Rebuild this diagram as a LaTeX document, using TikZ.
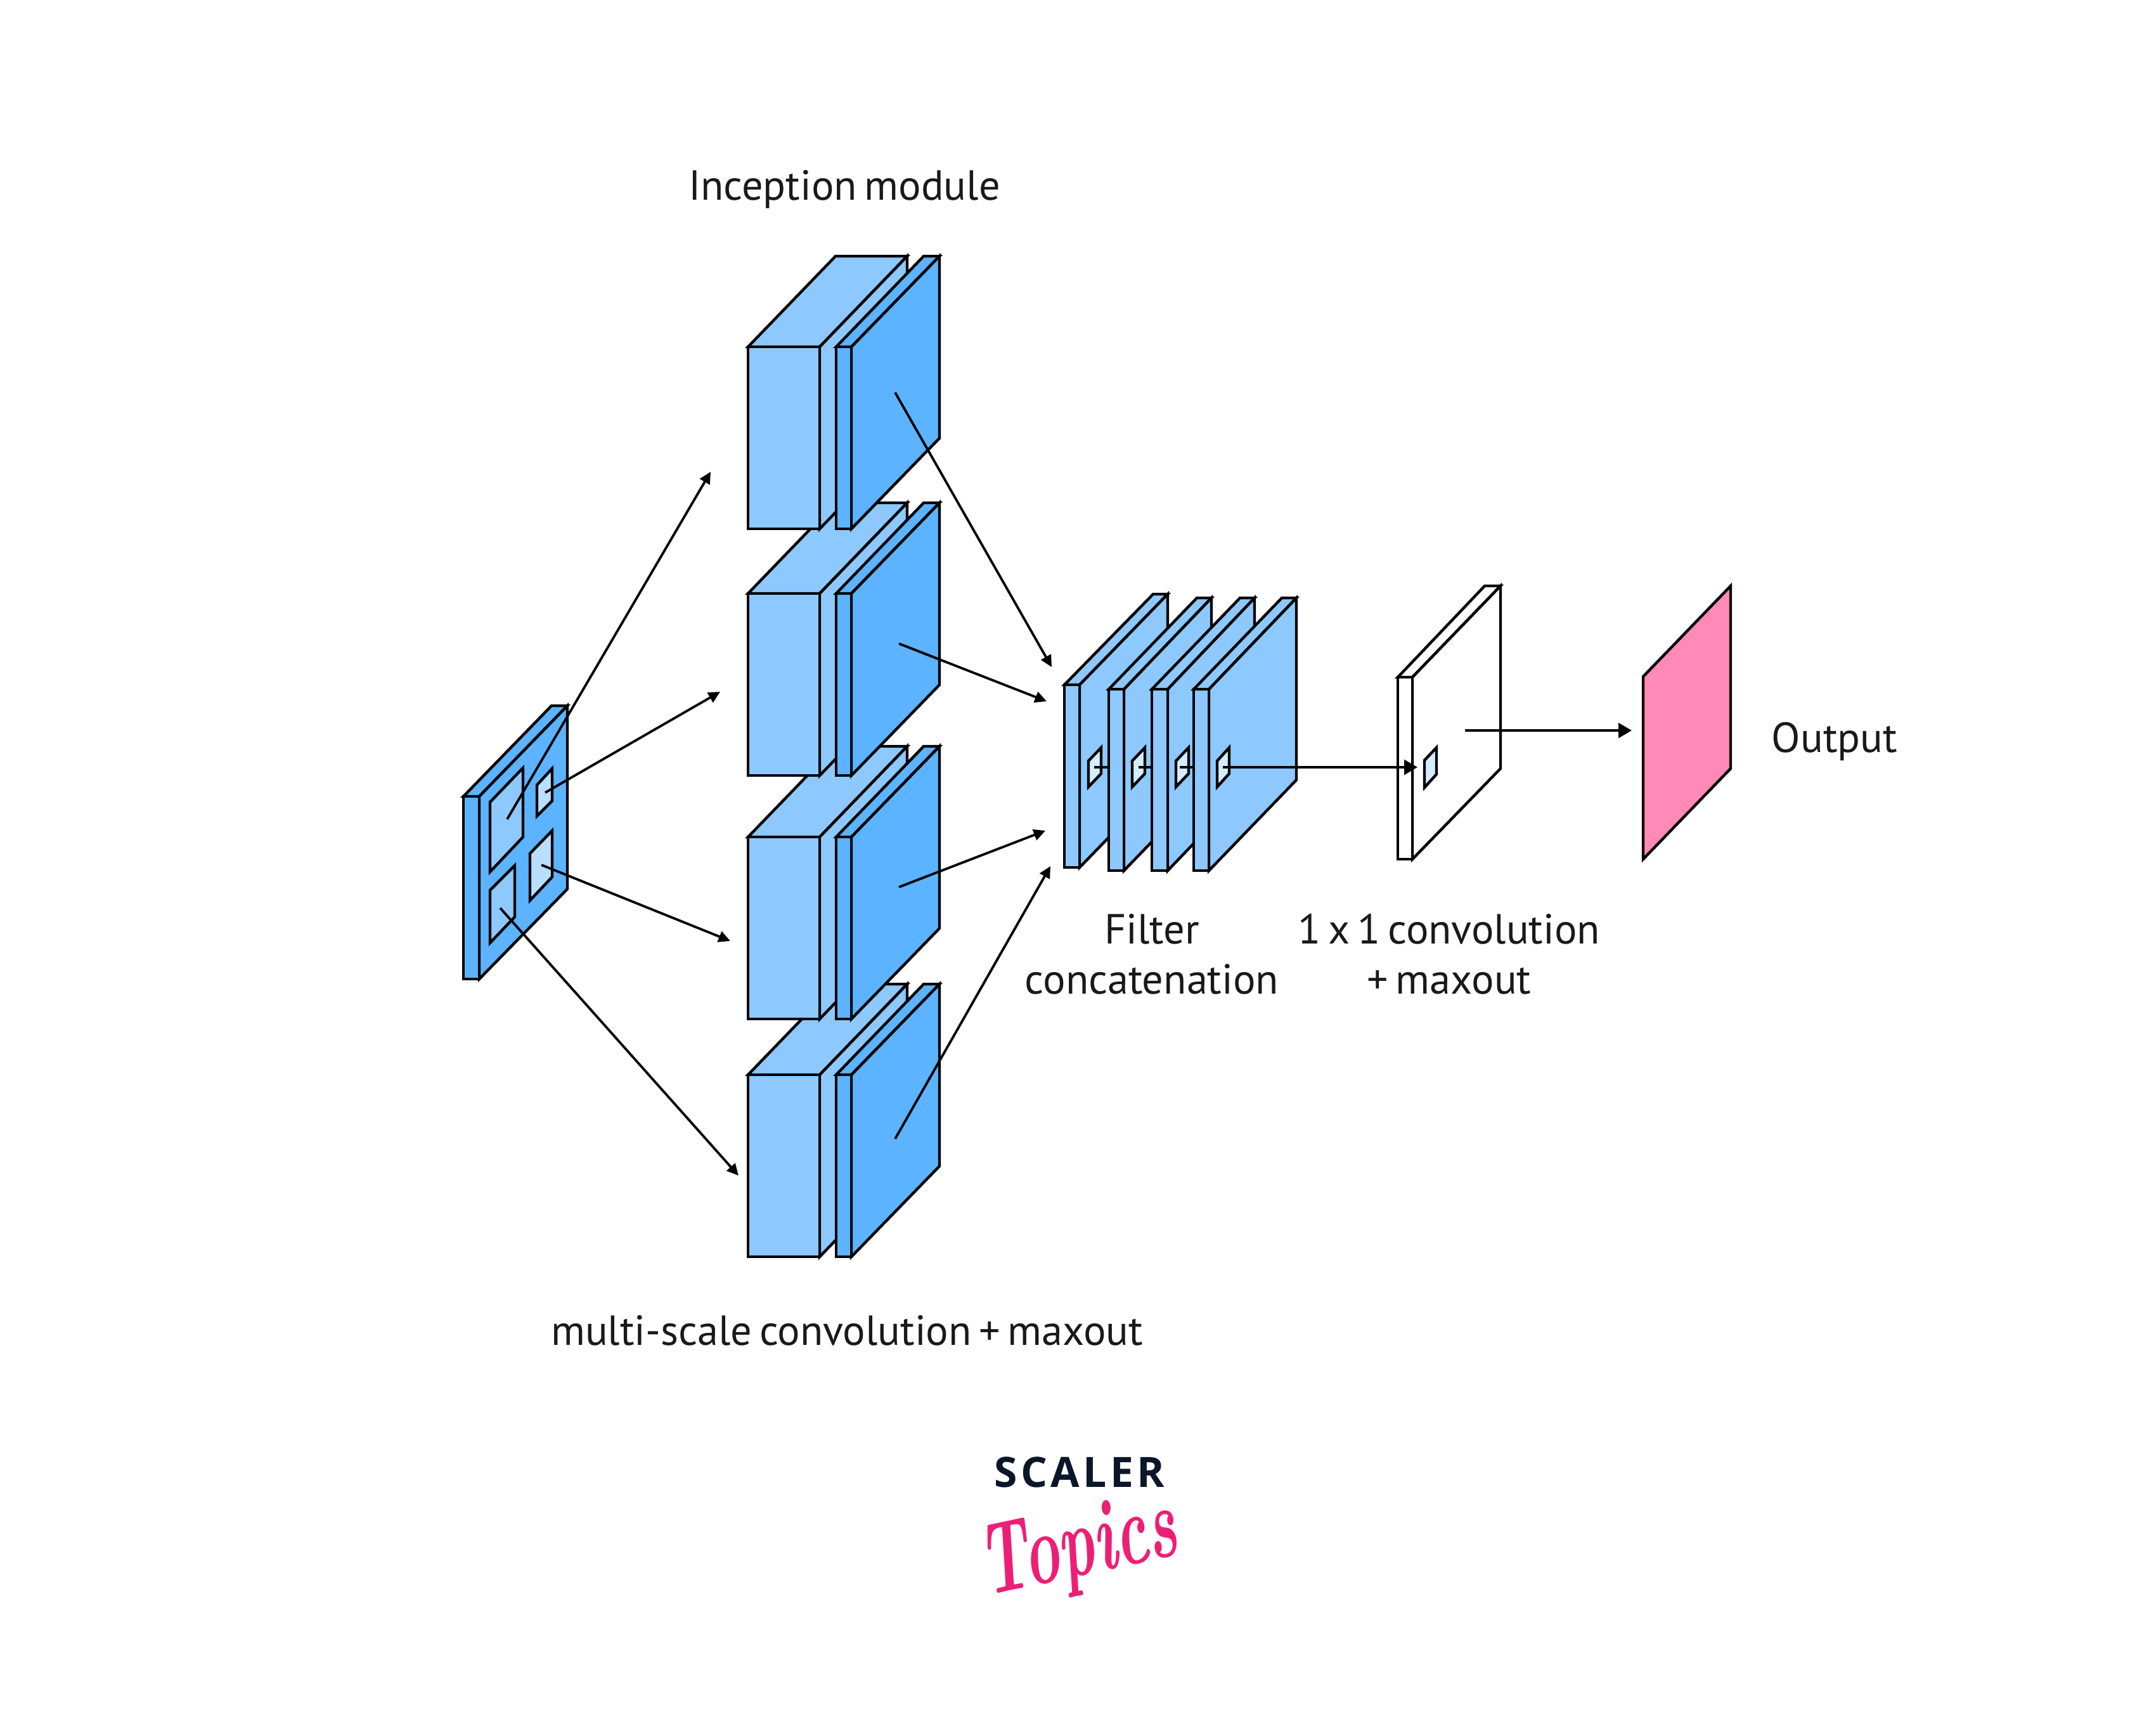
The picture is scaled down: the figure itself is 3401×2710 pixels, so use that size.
\documentclass[tikz,border=0pt]{standalone}
\usepackage{graphicx}
\usepackage{fontspec}
\setsansfont[WordSpace=0.66]{PT Sans}
\newfontfamily\logofont[LetterSpace=8]{Open Sans}
\usetikzlibrary{arrows.meta}

\definecolor{lightface}{HTML}{8DC9FF}
\definecolor{darkface}{HTML}{5CB3FF}
\definecolor{paleface}{HTML}{B9DFFF}
\definecolor{windowface}{HTML}{D4EDFF}
\definecolor{outputface}{HTML}{FF8AB8}
\definecolor{logonavy}{HTML}{0B1629}
\definecolor{logopink}{HTML}{EC1F75}

\tikzset{
  wall/.style={draw=black,line width=1.1pt,line join=miter},
  light/.style={wall,fill=lightface},
  dark/.style={wall,fill=darkface},
  pale/.style={wall,fill=paleface},
  hollow/.style={wall,fill=white},
  window/.style={wall,fill=windowface},
  flow/.style={draw=black,line width=.95pt,-{Triangle[length=4.6pt,width=4.4pt]}},
  bigflow/.style={draw=black,line width=.95pt,-{Triangle[length=5.2pt,width=5.8pt]}},
  stub/.style={draw=black,line width=.95pt},
  caption/.style={inner sep=0pt,anchor=base,font=\sffamily\fontsize{16.6pt}{20pt}\selectfont,text=black!90},
}

\begin{document}
\begin{tikzpicture}[x=0.25pt,y=0.25pt,yscale=-1,xscale=1]
\useasboundingbox (0,0) rectangle (3401,2710);

%Inception block 4
\path[light] (1180,1695) -- (1318,1552) -- (1431,1552) -- (1293,1695) -- cycle ;
\path[light] (1293,1695) -- (1431,1552) -- (1431,1839) -- (1293,1982) -- cycle ;
\path[light] (1180,1695) rectangle (1293,1982) ;
\path[dark] (1319,1695) -- (1457,1552) -- (1482,1552) -- (1343,1695) -- cycle ;
\path[dark] (1343,1695) -- (1482,1552) -- (1482,1839) -- (1343,1982) -- cycle ;
\path[dark] (1319,1695) rectangle (1343,1982) ;
%Inception block 3
\path[light] (1180,1320) -- (1318,1177) -- (1431,1177) -- (1293,1320) -- cycle ;
\path[light] (1293,1320) -- (1431,1177) -- (1431,1464) -- (1293,1607) -- cycle ;
\path[light] (1180,1320) rectangle (1293,1607) ;
\path[dark] (1319,1320) -- (1457,1177) -- (1482,1177) -- (1343,1320) -- cycle ;
\path[dark] (1343,1320) -- (1482,1177) -- (1482,1464) -- (1343,1607) -- cycle ;
\path[dark] (1319,1320) rectangle (1343,1607) ;
%Inception block 2
\path[light] (1180,936) -- (1318,793) -- (1431,793) -- (1293,936) -- cycle ;
\path[light] (1293,936) -- (1431,793) -- (1431,1080) -- (1293,1223) -- cycle ;
\path[light] (1180,936) rectangle (1293,1223) ;
\path[dark] (1319,936) -- (1457,793) -- (1482,793) -- (1343,936) -- cycle ;
\path[dark] (1343,936) -- (1482,793) -- (1482,1080) -- (1343,1223) -- cycle ;
\path[dark] (1319,936) rectangle (1343,1223) ;
%Inception block 1
\path[light] (1180,547) -- (1318,404) -- (1431,404) -- (1293,547) -- cycle ;
\path[light] (1293,547) -- (1431,404) -- (1431,691) -- (1293,834) -- cycle ;
\path[light] (1180,547) rectangle (1293,834) ;
\path[dark] (1319,547) -- (1457,404) -- (1482,404) -- (1343,547) -- cycle ;
\path[dark] (1343,547) -- (1482,404) -- (1482,691) -- (1343,834) -- cycle ;
\path[dark] (1319,547) rectangle (1343,834) ;

%Input panel
\path[dark] (731,1256) -- (870,1113) -- (895,1113) -- (756,1256) -- cycle ;
\path[dark] (756,1256) -- (895,1113) -- (895,1402) -- (756,1544) -- cycle ;
\path[dark] (731,1256) rectangle (756,1544) ;
\path[light] (773,1265) -- (825,1211) -- (825,1320) -- (773,1375) -- cycle ;
\path[pale] (847,1238) -- (871,1212) -- (871,1263) -- (847,1287) -- cycle ;
\path[pale] (836,1346) -- (871,1310) -- (871,1383) -- (836,1420) -- cycle ;
\path[light] (773,1404) -- (812,1365) -- (812,1446) -- (773,1487) -- cycle ;

%Filter slab 1
\path[light] (1679,1080) -- (1819,937) -- (1842,937) -- (1703,1080) -- cycle ;
\path[light] (1703,1080) -- (1842,937) -- (1842,1225) -- (1703,1368) -- cycle ;
\path[light] (1679,1080) rectangle (1703,1368) ;
\path[window] (1717,1200) -- (1737,1179) -- (1737,1220) -- (1717,1241) -- cycle ;
\coordinate (s1) at (1726,1210);
\coordinate (s1e) at (1760,1210);
\path[stub] (s1) -- (s1e) ;
%Filter slab 2
\path[light] (1749,1087) -- (1888,943) -- (1911,943) -- (1773,1087) -- cycle ;
\path[light] (1773,1087) -- (1911,943) -- (1911,1230) -- (1773,1373) -- cycle ;
\path[light] (1749,1087) rectangle (1773,1373) ;
\path[window] (1786,1200) -- (1806,1179) -- (1806,1220) -- (1786,1241) -- cycle ;
\coordinate (s2) at (1796,1210);
\coordinate (s2e) at (1828,1210);
\path[stub] (s2) -- (s2e) ;
%Filter slab 3
\path[light] (1817,1087) -- (1956,943) -- (1979,943) -- (1842,1087) -- cycle ;
\path[light] (1842,1087) -- (1979,943) -- (1979,1230) -- (1842,1373) -- cycle ;
\path[light] (1817,1087) rectangle (1842,1373) ;
\path[window] (1855,1200) -- (1875,1179) -- (1875,1220) -- (1855,1241) -- cycle ;
\coordinate (s3) at (1861,1210);
\coordinate (s3e) at (1892,1210);
\path[stub] (s3) -- (s3e) ;
%Filter slab 4
\path[light] (1883,1087) -- (2022,943) -- (2045,943) -- (1907,1087) -- cycle ;
\path[light] (1907,1087) -- (2045,943) -- (2045,1230) -- (1907,1373) -- cycle ;
\path[light] (1883,1087) rectangle (1907,1373) ;
\path[window] (1920,1200) -- (1939,1179) -- (1939,1220) -- (1920,1241) -- cycle ;

%White slab
\path[hollow] (2205,1068) -- (2342,924) -- (2367,924) -- (2228,1068) -- cycle ;
\path[hollow] (2228,1068) -- (2367,924) -- (2367,1212) -- (2228,1355) -- cycle ;
\path[hollow] (2205,1068) rectangle (2228,1355) ;
\path[window] (2247,1199) -- (2266,1179) -- (2266,1221) -- (2247,1242) -- cycle ;

%Output plane
\path[wall,fill=outputface] (2592,1067) -- (2730,924) -- (2730,1212) -- (2592,1355) -- cycle ;

%Arrow ends
\coordinate (p1) at (800,1292);
\coordinate (q1) at (1121,744);
\coordinate (p2) at (860,1250);
\coordinate (q2) at (1136,1091);
\coordinate (p3) at (854,1364);
\coordinate (q3) at (1152,1484);
\coordinate (p4) at (789,1432);
\coordinate (q4) at (1165,1854);
\coordinate (b1) at (1412,619);
\coordinate (c1) at (1659,1052);
\coordinate (b2) at (1418,1015);
\coordinate (c2) at (1651,1106);
\coordinate (b3) at (1418,1399);
\coordinate (c3) at (1649,1310);
\coordinate (b4) at (1412,1796);
\coordinate (c4) at (1657,1366);
\coordinate (s4) at (1929,1210);
\coordinate (w1) at (2236,1210);
\coordinate (w2) at (2311,1152);
\coordinate (o1) at (2574,1152);

%Straight Lines
\draw[flow] (p1) -- (q1) ;
\draw[flow] (p2) -- (q2) ;
\draw[flow] (p3) -- (q3) ;
\draw[flow] (p4) -- (q4) ;
\draw[flow] (b1) -- (c1) ;
\draw[flow] (b2) -- (c2) ;
\draw[flow] (b3) -- (c3) ;
\draw[flow] (b4) -- (c4) ;
\draw[bigflow] (s4) -- (w1) ;
\draw[bigflow] (w2) -- (o1) ;

% Text Node
\node[caption] (inception) at (1332,315) {Inception module};
% Text Node
\node[caption] (multiscale) at (1336,2121) {multi-scale convolution + maxout};
% Text Node
\node[caption] (filter) at (1817,1488) {Filter};
% Text Node
\node[caption] (concat) at (1817,1567) {concatenation};
% Text Node
\node[caption] (oneone) at (2286,1488) {1 x 1 convolution};
% Text Node
\node[caption] (maxout) at (2286,1567) {+ maxout};
% Text Node
\node[caption,anchor=base west] (output) at (2794,1186) {Output};
% Text Node
\node[inner sep=0pt,anchor=base,text=logonavy,font=\logofont\bfseries\fontsize{16.5pt}{18pt}\selectfont] (scaler) at (1703,2345) {SCALER};
% Text Node
\node[inner sep=0pt,anchor=center,rotate=12,text=logopink,font=\rmfamily\bfseries\itshape\fontsize{40pt}{42pt}\selectfont] (topics) at (1702,2446) {\scalebox{.6}[1]{Topics}};

\end{tikzpicture}
\end{document}
